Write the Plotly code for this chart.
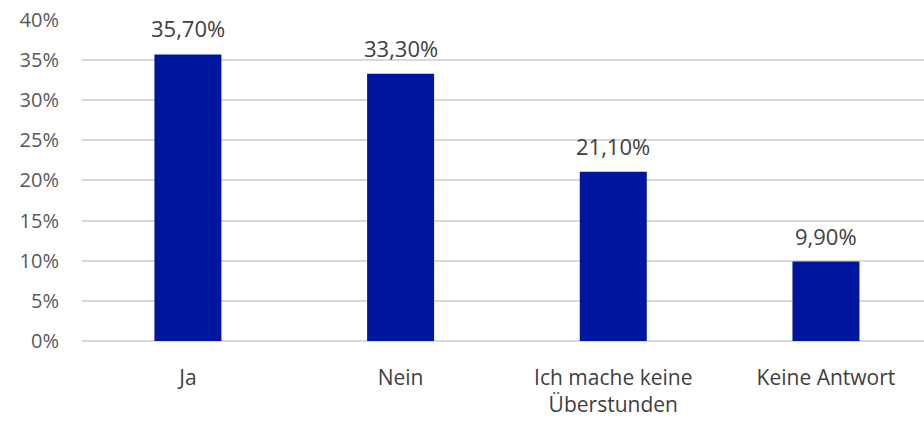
import plotly.graph_objects as go

categories = ["Ja", "Nein", "Ich mache keine<br>Überstunden", "Keine Antwort"]
values = [35.7, 33.3, 21.1, 9.9]
value_labels = ["35,70%", "33,30%", "21,10%", "9,90%"]
y_ticks = [0, 5, 10, 15, 20, 25, 30, 35, 40]
y_tick_labels = ["0%", "5%", "10%", "15%", "20%", "25%", "30%", "35%", "40%"]

FONT = "Open Sans"
x_pos = list(range(len(categories)))

fig = go.Figure(go.Bar(
    x=x_pos,
    y=values,
    marker=dict(color="#00169F", line=dict(width=0)),
    width=0.315,
    hoverinfo="skip",
))

for xi, v, lab in zip(x_pos, values, value_labels):
    fig.add_annotation(
        x=xi, y=v, text=lab, showarrow=False,
        xanchor="center", yanchor="bottom", yshift=9,
        font=dict(size=22, color="#404040", family=FONT),
    )

fig.update_layout(
    width=924, height=422,
    margin=dict(l=82, r=0, t=19, b=81),
    paper_bgcolor="white", plot_bgcolor="white",
    font=dict(family=FONT, color="#595959"),
    showlegend=False,
    xaxis=dict(
        tickmode="array",
        tickvals=x_pos,
        ticktext=categories,
        range=[-0.498, 3.461],
        showgrid=False, zeroline=False, showline=False,
        tickfont=dict(size=21, color="#404040", family=FONT),
        ticks="", ticklabelstandoff=22,
        automargin=False,
    ),
    yaxis=dict(
        range=[0, 40.12],
        tickmode="array",
        tickvals=y_ticks,
        ticktext=y_tick_labels,
        showgrid=True, gridcolor="#d9d9d9", gridwidth=1.5,
        zeroline=True, zerolinecolor="#d9d9d9", zerolinewidth=1.5,
        showline=False,
        tickfont=dict(size=20, color="#595959", family=FONT),
        ticks="", ticklabelstandoff=22,
        automargin=False,
    ),
)

fig.write_html(
    "out.html",
    config={"displayModeBar": False},
    post_script="document.body.style.margin='0';",
)
